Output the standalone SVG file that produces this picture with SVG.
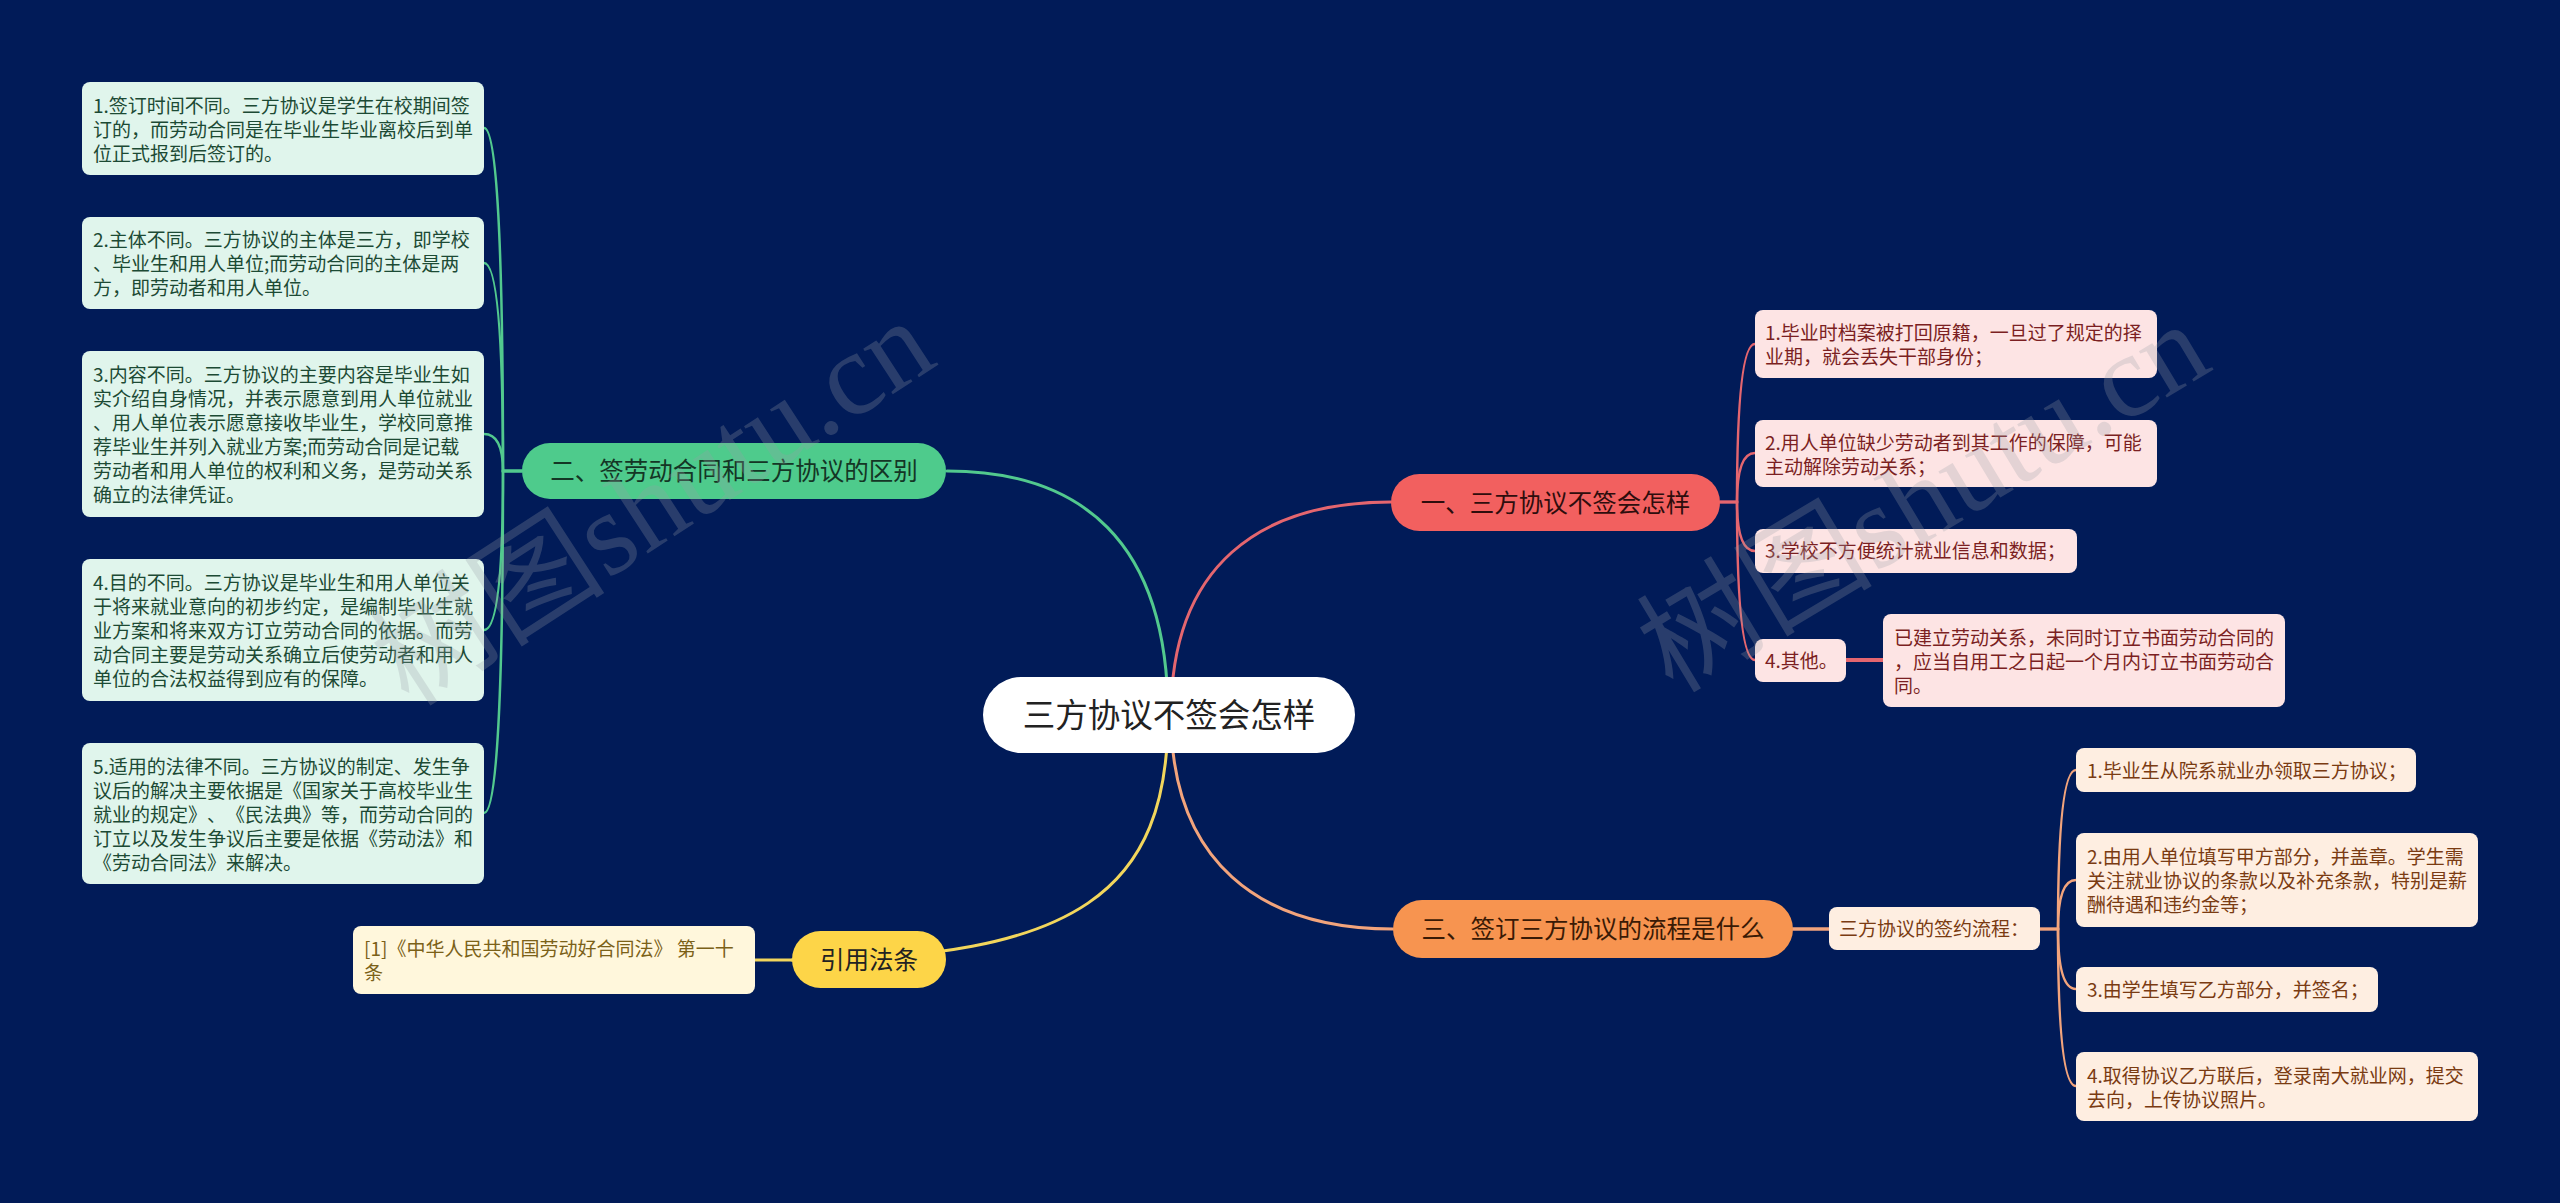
<svg xmlns="http://www.w3.org/2000/svg" width="2560" height="1203" viewBox="0 0 2560 1203">
<style>
.t{font-family:"Noto Sans CJK SC","Noto Sans",sans-serif;font-size:19px;text-spacing-trim:space-all;font-feature-settings:"chws" 0,"halt" 0}
.b{font-family:"Noto Sans CJK SC","Noto Sans",sans-serif;font-size:24.5px;text-anchor:middle}
.ln{fill:none;stroke-linecap:round}
.g{fill:#e0f5ec}.gt{fill:#1c4a34}
.r{fill:#fde4e4}.rt{fill:#7b1f22}
.o{fill:#feeee1}.ot{fill:#7a3b12}
.y{fill:#fff7dc}.yt{fill:#7b6118}
.wm{font-family:"Liberation Serif","Noto Sans CJK SC",serif;font-size:118px;fill:#9aa0a8;opacity:0.26}
</style>
<rect width="2560" height="1203" fill="#011b58"/>
<g id="connectors">
<path class="ln" stroke="#52c98e" stroke-width="3" d="M947 471 C1080 471 1168 540 1168 715"/>
<path class="ln" stroke="#e4666f" stroke-width="3" d="M1391 502 C1260 502 1171 565 1171 715"/>
<path class="ln" stroke="#f2a47c" stroke-width="3" d="M1393 929 C1260 929 1171 862 1171 715"/>
<path class="ln" stroke="#f2d65c" stroke-width="3" d="M792 960 C1080 960 1168 890 1168 715"/>
<g stroke="#52c98e" stroke-width="2.5" class="ln">
<path d="M522 471 H503 Q503 128 484 128"/>
<path d="M522 471 H503 Q503 263 484 263"/>
<path d="M522 471 H503 Q503 434 484 434"/>
<path d="M522 471 H503 Q503 630 484 630"/>
<path d="M522 471 H503 Q503 813 484 813"/>
</g>
<g stroke="#e4666f" stroke-width="2.5" class="ln">
<path d="M1720 502 H1737 Q1737 344 1755 344"/>
<path d="M1720 502 H1737 Q1737 453 1755 453"/>
<path d="M1720 502 H1737 Q1737 551 1755 551"/>
<path d="M1720 502 H1737 Q1737 660 1755 660"/>
<path d="M1846 660 H1883" stroke-width="4"/>
</g>
<g stroke="#f2a47c" stroke-width="2.5" class="ln">
<path d="M1793 929 H1829" stroke-width="3.5"/>
<path d="M2040 929 H2058 Q2058 770 2076 770"/>
<path d="M2040 929 H2058 Q2058 880 2076 880"/>
<path d="M2040 929 H2058 Q2058 989 2076 989"/>
<path d="M2040 929 H2058 Q2058 1086 2076 1086"/>
</g>
<path class="ln" stroke="#f2d65c" stroke-width="3" d="M755 960 H792"/>
</g>
<g id="root">
<rect x="983" y="677" width="372" height="76" rx="38" fill="#ffffff"/>
<text x="1169" y="727" font-family="Noto Sans CJK SC, sans-serif" font-size="32.5" text-anchor="middle" fill="#222">三方协议不签会怎样</text>
</g>
<g id="b2">
<rect x="522" y="443" width="424" height="56" rx="28" fill="#4ecb8c"/>
<text class="b" x="734" y="480" fill="#143625">二、签劳动合同和三方协议的区别</text>
</g>
<g id="b2-1"><rect class="g" x="82" y="82" width="402" height="93" rx="8"/>
<text class="t gt" x="93" y="113">1.签订时间不同。三方协议是学生在校期间签</text>
<text class="t gt" x="93" y="137">订的，而劳动合同是在毕业生毕业离校后到单</text>
<text class="t gt" x="93" y="161">位正式报到后签订的。</text></g>
<g id="b2-2"><rect class="g" x="82" y="217" width="402" height="92" rx="8"/>
<text class="t gt" x="93" y="247">2.主体不同。三方协议的主体是三方，即学校</text>
<text class="t gt" x="93" y="271">、毕业生和用人单位;而劳动合同的主体是两</text>
<text class="t gt" x="93" y="295">方，即劳动者和用人单位。</text></g>
<g id="b2-3"><rect class="g" x="82" y="351" width="402" height="166" rx="8"/>
<text class="t gt" x="93" y="382">3.内容不同。三方协议的主要内容是毕业生如</text>
<text class="t gt" x="93" y="406">实介绍自身情况，并表示愿意到用人单位就业</text>
<text class="t gt" x="93" y="430">、用人单位表示愿意接收毕业生，学校同意推</text>
<text class="t gt" x="93" y="454">荐毕业生并列入就业方案;而劳动合同是记载</text>
<text class="t gt" x="93" y="478">劳动者和用人单位的权利和义务，是劳动关系</text>
<text class="t gt" x="93" y="502">确立的法律凭证。</text></g>
<g id="b2-4"><rect class="g" x="82" y="559" width="402" height="142" rx="8"/>
<text class="t gt" x="93" y="590">4.目的不同。三方协议是毕业生和用人单位关</text>
<text class="t gt" x="93" y="614">于将来就业意向的初步约定，是编制毕业生就</text>
<text class="t gt" x="93" y="638">业方案和将来双方订立劳动合同的依据。而劳</text>
<text class="t gt" x="93" y="662">动合同主要是劳动关系确立后使劳动者和用人</text>
<text class="t gt" x="93" y="686">单位的合法权益得到应有的保障。</text></g>
<g id="b2-5"><rect class="g" x="82" y="743" width="402" height="141" rx="8"/>
<text class="t gt" x="93" y="773.5">5.适用的法律不同。三方协议的制定、发生争</text>
<text class="t gt" x="93" y="797.5">议后的解决主要依据是《国家关于高校毕业生</text>
<text class="t gt" x="93" y="821.5">就业的规定》、《民法典》等，而劳动合同的</text>
<text class="t gt" x="93" y="845.5">订立以及发生争议后主要是依据《劳动法》和</text>
<text class="t gt" x="93" y="869.5">《劳动合同法》来解决。</text></g>
<g id="b1">
<rect x="1391" y="474" width="329" height="57" rx="28.5" fill="#f2605f"/>
<text class="b" x="1555.5" y="511.5" fill="#2e0d0d">一、三方协议不签会怎样</text>
</g>
<g id="b1-1"><rect class="r" x="1755" y="310" width="402" height="68" rx="8"/>
<text class="t rt" x="1765" y="340">1.毕业时档案被打回原籍，一旦过了规定的择</text>
<text class="t rt" x="1765" y="364">业期，就会丢失干部身份；</text></g>
<g id="b1-2"><rect class="r" x="1755" y="420" width="402" height="67" rx="8"/>
<text class="t rt" x="1765" y="449.5">2.用人单位缺少劳动者到其工作的保障，可能</text>
<text class="t rt" x="1765" y="473.5">主动解除劳动关系；</text></g>
<g id="b1-3"><rect class="r" x="1755" y="529" width="322" height="44" rx="8"/>
<text class="t rt" x="1765" y="558">3.学校不方便统计就业信息和数据；</text></g>
<g id="b1-4"><rect class="r" x="1755" y="639" width="91" height="43" rx="8"/>
<text class="t rt" x="1765" y="668">4.其他。</text></g>
<g id="b1-4-1"><rect class="r" x="1883" y="614" width="402" height="93" rx="8"/>
<text class="t rt" x="1894" y="644.5">已建立劳动关系，未同时订立书面劳动合同的</text>
<text class="t rt" x="1894" y="668.5">，应当自用工之日起一个月内订立书面劳动合</text>
<text class="t rt" x="1894" y="692.5">同。</text></g>
<g id="b3">
<rect x="1393" y="900" width="400" height="58" rx="29" fill="#f79450"/>
<text class="b" x="1593" y="938" fill="#3a1a05">三、签订三方协议的流程是什么</text>
</g>
<g id="b3-1"><rect class="o" x="1829" y="907" width="211" height="43" rx="8"/>
<text class="t ot" x="1839" y="936">三方协议的签约流程：</text></g>
<g id="b3-1-1"><rect class="o" x="2076" y="748" width="340" height="44" rx="8"/>
<text class="t ot" x="2087" y="777.5">1.毕业生从院系就业办领取三方协议；</text></g>
<g id="b3-1-2"><rect class="o" x="2076" y="833" width="402" height="94" rx="8"/>
<text class="t ot" x="2087" y="864">2.由用人单位填写甲方部分，并盖章。学生需</text>
<text class="t ot" x="2087" y="888">关注就业协议的条款以及补充条款，特别是薪</text>
<text class="t ot" x="2087" y="912">酬待遇和违约金等；</text></g>
<g id="b3-1-3"><rect class="o" x="2076" y="967" width="302" height="45" rx="8"/>
<text class="t ot" x="2087" y="997">3.由学生填写乙方部分，并签名；</text></g>
<g id="b3-1-4"><rect class="o" x="2076" y="1052" width="402" height="69" rx="8"/>
<text class="t ot" x="2087" y="1082.5">4.取得协议乙方联后，登录南大就业网，提交</text>
<text class="t ot" x="2087" y="1106.5">去向，上传协议照片。</text></g>
<g id="b4">
<rect x="792" y="931" width="154" height="57" rx="28.5" fill="#fdd548"/>
<text class="b" x="869" y="968.5" fill="#222">引用法条</text>
</g>
<g id="b4-1"><rect class="y" x="353" y="926" width="402" height="68" rx="8"/>
<text class="t yt" x="364" y="956">[1]《中华人民共和国劳动好合同法》 第一十</text>
<text class="t yt" x="364" y="980">条</text></g>
<g id="watermark">
<text class="wm" x="661" y="540" text-anchor="middle" transform="rotate(-33 661 515)">树图shutu.cn</text>
<text class="wm" x="1931" y="535" text-anchor="middle" transform="rotate(-31 1931 510)">树图shutu.cn</text>
</g>
</svg>
